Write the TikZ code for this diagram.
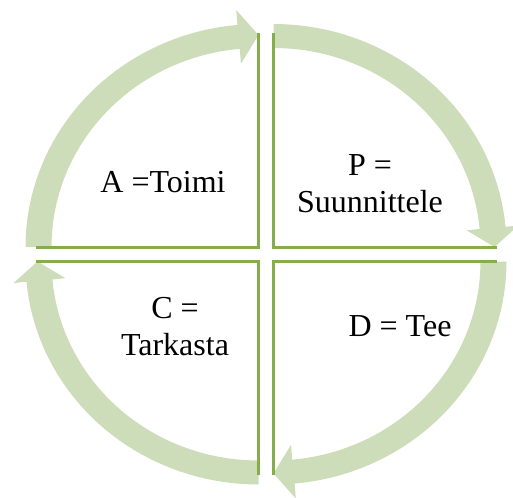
\documentclass[tikz,border=0pt]{standalone}
\usepackage{fontspec}
\newfontfamily\pdcafont{LiberationSerif-Regular.ttf}
\usetikzlibrary{positioning}
\definecolor{bandgreen}{HTML}{CDDDB9}
\definecolor{rulegreen}{HTML}{86AD4C}

\begin{document}
\begin{tikzpicture}[x=1pt, y=-1pt, font=\pdcafont\fontsize{32}{37}\selectfont,
                    band/.style={fill=bandgreen, draw=none},
                    divider/.style={draw=rulegreen, line width=3pt, line join=miter},
                    lbl/.style={align=center, inner sep=0pt}]
  \useasboundingbox (0,0) rectangle (513,497);
  % arrows: corner x / corner y / start angle
  \foreach \cx/\cy/\a in {273.5/247/-90, 273.5/261.5/0, 258.5/261.5/90, 258.5/247/180}{
    \pgfmathsetmacro{\b}{\a+84.8}
    \pgfmathsetmacro{\e}{\a+90}
    \fill[band] plot[domain=\a:\b, samples=40] ({\cx+233*cos(\x)},{\cy+223*sin(\x)})
      -- ({\cx+246*cos(\b)},{\cy+238*sin(\b)})
      -- ({\cx+221*cos(\e)},{\cy+212*sin(\e)})
      -- ({\cx+194*cos(\b)},{\cy+184*sin(\b)})
      -- plot[domain=\b:\a, samples=40] ({\cx+207*cos(\x)},{\cy+199*sin(\x)}) -- cycle;
  }
  % dividers
  \draw[divider] (258.5,33) -- (258.5,247) -- (36,247);
  \draw[divider] (273.5,33) -- (273.5,247) -- (497,247);
  \draw[divider] (258.5,475) -- (258.5,261.5) -- (36,261.5);
  \draw[divider] (273.5,475) -- (273.5,261.5) -- (497,261.5);
  \node[lbl] (act) at (163,182) {A =Toimi};
  \node[lbl] (plan) at (370,184) {P =\\Suunnittele};
  \node[lbl] (check) at (175,327) {C =\\Tarkasta};
  \node[lbl] (do) at (400,326) {D = Tee};
\end{tikzpicture}
\end{document}
